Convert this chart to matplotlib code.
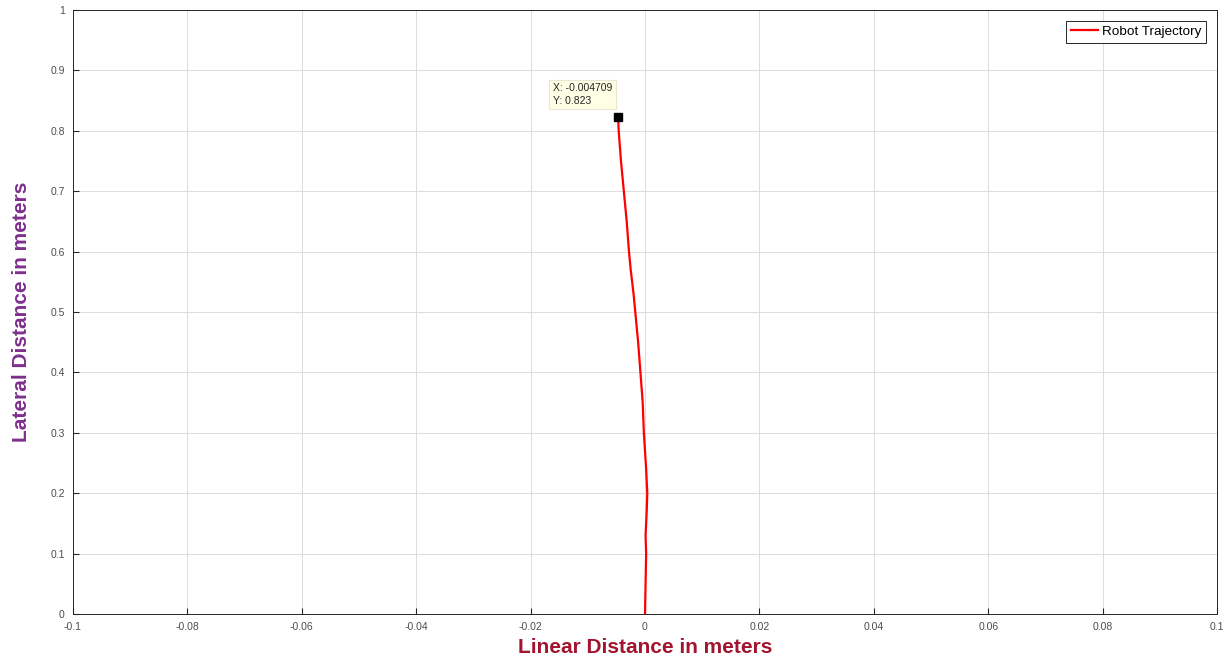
import matplotlib
matplotlib.use("Agg")
import matplotlib.pyplot as plt

# Trajektorie
lateral = [0.0, 0.05, 0.10, 0.13, 0.17, 0.20, 0.24, 0.27, 0.30, 0.35, 0.40, 0.45,
           0.50, 0.53, 0.57, 0.60, 0.65, 0.70, 0.75, 0.80, 0.823]
linear = [0.0, 0.0001, 0.0002, 0.0001, 0.0003, 0.0004, 0.0002, 0.0, -0.0002, -0.0004, -0.0008, -0.0012,
          -0.0017, -0.0020, -0.0025, -0.0028, -0.0032, -0.0037, -0.0042, -0.0046, -0.004709]

tip_x = -0.004709
tip_y = 0.823

plt.rcParams['font.family'] = ['Liberation Sans', 'DejaVu Sans']

fig = plt.figure(figsize=(12.23, 6.58), dpi=100)
ax = fig.add_axes([73/1223, 1-614/658, 1144/1223, 604/658])

ax.plot(linear, lateral, color='#ff0000', linewidth=1.6, label='Robot Trajectory')

# Datentip
ax.plot([tip_x], [tip_y], marker='s', color='k', markersize=6, linestyle='none')
ax.annotate('X: %g\nY: %g' % (tip_x, tip_y), xy=(tip_x, tip_y), xytext=(-47, 8),
            textcoords='offset points', fontsize=7.5, color='#262626', linespacing=1.3,
            ha='left', va='bottom',
            bbox=dict(boxstyle='square,pad=0.35', fc='#ffffe6', ec='#e8e8d0', lw=0.8))

ax.set_xlim(-0.1, 0.1)
ax.set_ylim(0, 1)
ax.set_xticks([-0.1, -0.08, -0.06, -0.04, -0.02, 0, 0.02, 0.04, 0.06, 0.08, 0.1])
ax.set_xticklabels(['-0.1', '-0.08', '-0.06', '-0.04', '-0.02', '0', '0.02', '0.04', '0.06', '0.08', '0.1'])
ax.set_yticks([0, 0.1, 0.2, 0.3, 0.4, 0.5, 0.6, 0.7, 0.8, 0.9, 1])
ax.set_yticklabels(['0', '0.1', '0.2', '0.3', '0.4', '0.5', '0.6', '0.7', '0.8', '0.9', '1'])

ax.grid(True, color='#dcdcdc', linewidth=0.7)
ax.set_axisbelow(True)
ax.tick_params(direction='in', length=4, pad=6, labelsize=7.5, colors='#262626',
               labelcolor='#4d4d4d', top=False, right=False)
for s in ax.spines.values():
    s.set_color('#262626')
    s.set_linewidth(0.7)

ax.set_xlabel('Linear Distance in meters', fontsize=15, fontweight='bold', color='#a2142f', labelpad=4)
ax.set_ylabel('Lateral Distance in meters', fontsize=15, fontweight='bold', color='#7e2f8e', labelpad=14)

leg = ax.legend(loc='upper right', fontsize=9.7, fancybox=False, framealpha=1,
                edgecolor='#262626', borderpad=0.35, handlelength=2.0, handletextpad=0.3,
                borderaxespad=0.8)
leg.get_frame().set_linewidth(0.7)

fig.savefig('out.png', dpi=100)
